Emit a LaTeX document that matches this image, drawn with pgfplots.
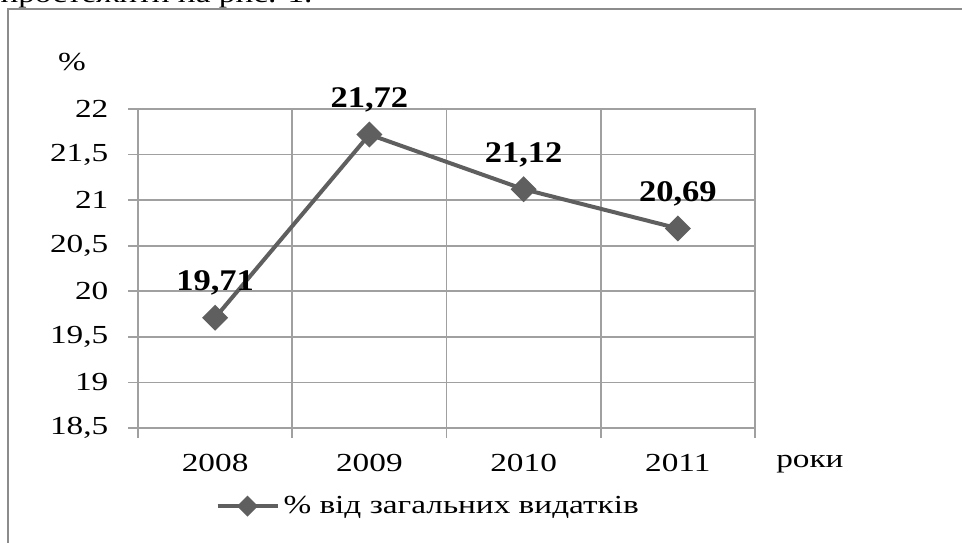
\documentclass[border=0pt]{standalone}
\usepackage{fontspec}
\setmainfont{Liberation Serif}
\usepackage{pgfplots}
\pgfplotsset{compat=1.18}
\definecolor{gridgray}{HTML}{A0A0A0}
\definecolor{linegray}{HTML}{5F5F5F}
\definecolor{framegray}{HTML}{8C8C8C}
\newcommand\tickfont{\fontsize{13}{15}\selectfont}
\newcommand\labfont{\bfseries\fontsize{15}{17}\selectfont}

\begin{document}
\begin{tikzpicture}
\useasboundingbox (0,0) rectangle (481pt,271pt);
\node[anchor=base west, inner sep=0pt, font=\tickfont, xscale=1.28] at (0pt,269.5pt) {простежити на рис. 1.};
\draw[framegray, line width=1.25pt] (4pt,-2pt) -- (4pt,266.5pt) -- (485pt,266.5pt);
\begin{axis}[
  at={(69pt,57pt)}, anchor=south west,
  scale only axis, width=308.5pt, height=159.5pt,
  xmin=0, xmax=4, ymin=18.5, ymax=22,
  xtick={0.5,1.5,2.5,3.5},
  xticklabels={2008,2009,2010,2011},
  minor xtick={0,1,2,3,4},
  ytick={18.5,19,19.5,20,20.5,21,21.5,22},
  y tick label style={/pgf/number format/use comma},
  /pgf/number format/assume math mode=true,
  tick align=outside, tick pos=left,
  major tick length=5pt, minor tick length=5pt,
  major x tick style={draw=none},
  tick style={gridgray, line width=0.8pt},
  axis line style={gridgray, line width=0.8pt},
  ymajorgrids=true, xmajorgrids=false, xminorgrids=true,
  grid style={gridgray, line width=0.8pt},
  minor grid style={gridgray, line width=0.8pt},
  ticklabel style={font=\tickfont, xscale=1.28},
  x tick label style={anchor=base, yshift=-16.5pt},
  y tick label style={anchor=east, inner sep=0pt, xshift=-7.5pt},
  clip=false,
  legend style={draw=none, fill=none, inner sep=0pt, at={(0.125,-0.245)}, anchor=west, font=\tickfont},
  legend image code/.code={\draw[mark repeat=2,mark phase=2,#1,mark size=2.7pt] plot coordinates {(0pt,0pt) (15pt,0pt) (30pt,0pt)};},
  ]
\addplot[linegray, line width=2pt, mark=square*, mark size=3.6pt,
  mark options={rotate=45, solid, fill=linegray},
  point meta=y,
  nodes near coords={\pgfmathprintnumber[fixed,fixed zerofill,precision=2,use comma,assume math mode=true]{\pgfplotspointmeta}},
  every node near coord/.append style={font=\labfont, text=black, anchor=base, yshift=13.5pt, xscale=1.15}]
  coordinates {(0.5,19.71) (1.5,21.72) (2.5,21.12) (3.5,20.69)};
\addlegendentry{\scalebox{1.28}[1]{\% від загальних видатків}}
\node[anchor=base, font=\tickfont, xscale=1.28] at (rel axis cs:1.089,-0.125) {роки};
\node[anchor=base, font=\tickfont, xscale=1.28] at (rel axis cs:-0.107,1.122) {\%};
\end{axis}
\end{tikzpicture}
\end{document}
